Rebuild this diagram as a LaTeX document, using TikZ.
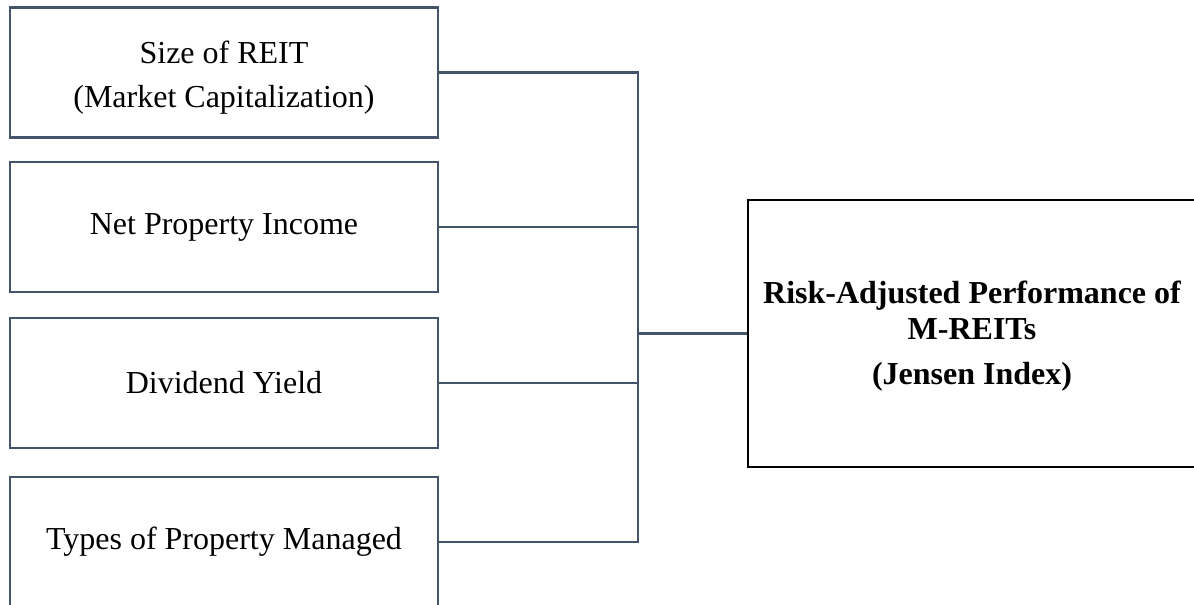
\documentclass[tikz,border=0pt]{standalone}
\usepackage{fontspec}
\setmainfont{Liberation Serif}
\definecolor{slate}{HTML}{44546A}
\begin{document}
\begin{tikzpicture}[x=1pt,y=-1pt,
  leftbox/.style={draw=slate, line width=2.2pt, minimum width=428pt, minimum height=130pt, inner sep=0pt, align=center, font=\fontsize{32}{44}\selectfont},
  rightbox/.style={draw=black, line width=2.2pt, minimum width=448pt, minimum height=267pt, inner sep=0pt},
  lefttext/.style={inner sep=0pt, align=center, font=\fontsize{32}{44}\selectfont},
  righttext/.style={inner sep=0pt, align=center, font=\fontsize{32}{36}\selectfont\bfseries},
  link/.style={draw=slate, line width=2.2pt}]
\useasboundingbox (0,0) rectangle (1194,605);
\clip (0,0) rectangle (1194,605);
\node[leftbox] (a) at (224,72.5) {};
\node[lefttext] (at) at ([yshift=-5pt]a.center) {Size of REIT\\(Market Capitalization)};
\node[leftbox] (b) at (224,227) {Net Property Income};
\node[leftbox] (c) at (224,383) {Dividend Yield};
\node[leftbox] (d) at (224,542) {Types of Property Managed};
\node[rightbox] (r) at (972,333.5) {};
\node[righttext] (rt) at ([yshift=-3pt]r.center) {Risk-Adjusted Performance of\\M-REITs\\[9pt](Jensen Index)};
\coordinate (j) at (638,333.5);
\draw[link] (a.east) -| (d.east -| j) -- (d.east);
\draw[link] (b.east) -- (b.east -| j);
\draw[link] (c.east) -- (c.east -| j);
\draw[link] (j) -- (r.west);
\end{tikzpicture}
\end{document}
